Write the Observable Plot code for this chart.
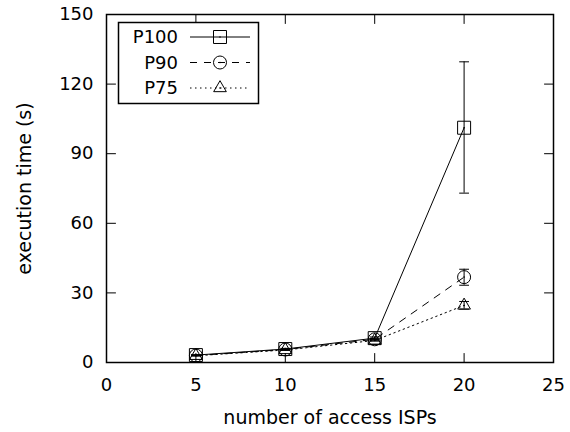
<!DOCTYPE html>
<html>
<head>
<meta charset="utf-8">
<script src="https://cdn.jsdelivr.net/npm/d3@7"></script>
<script src="https://cdn.jsdelivr.net/npm/@observablehq/plot@0.6"></script>
<style>
  html, body { margin: 0; padding: 0; background: #fff; }
  #chart svg { display: block; }
</style>
</head>
<body>
<div id="chart"></div>
<script>
// Execution time vs. number of access ISPs, three percentiles with error bars.
const isps = [5, 10, 15, 20];

const p100 = [3.2, 5.8, 10.5, 101.2];
const p100Low = [3.0, 5.5, 10.0, 73.0];
const p100High = [3.4, 6.1, 11.0, 129.6];

const p90 = [3.0, 5.6, 10.0, 36.8];
const p90Low = [2.9, 5.4, 9.6, 33.3];
const p90High = [3.1, 5.8, 10.4, 40.2];

const p75 = [2.9, 5.4, 9.5, 24.6];
const p75Low = [2.8, 5.2, 9.2, 23.0];
const p75High = [3.0, 5.6, 9.8, 26.3];

const seriesNames = ["P100", "P90", "P75"];
const xTicks = [0, 5, 10, 15, 20, 25];
const yTicks = [0, 30, 60, 90, 120, 150];

const FONT = "DejaVu Sans";
const FS = 18;
const TITLE_FS = 19;

const styles = {
  P100: { dash: null, symbol: d3.symbolSquare, r: 7.33 },
  P90: { dash: "7,7", symbol: d3.symbolCircle, r: 6.5 },
  P75: { dash: "1.5,3.5", symbol: d3.symbolTriangle, r: 4.71 }
};

function rowsFor(name, vals, lo, hi) {
  return isps.map((x, i) => ({ series: name, x, y: vals[i], lo: lo[i], hi: hi[i] }));
}
const rows = {
  P100: rowsFor("P100", p100, p100Low, p100High),
  P90: rowsFor("P90", p90, p90Low, p90High),
  P75: rowsFor("P75", p75, p75Low, p75High)
};

// A plain line segment shape for vector marks (ticks and error-bar caps).
const segment = { draw(context, l) { context.moveTo(0, 0); context.lineTo(0, -l); } };

const symbolName = { P100: "square", P90: "circle", P75: "triangle" };

const marks = [];

// Inward ticks on all four sides.
marks.push(
  Plot.vector(xTicks, { x: d => d, y: 0, length: 9, rotate: 0, anchor: "start", shape: segment, stroke: "black", strokeWidth: 1 }),
  Plot.vector(xTicks, { x: d => d, y: 150, length: 9, rotate: 180, anchor: "start", shape: segment, stroke: "black", strokeWidth: 1 }),
  Plot.vector(yTicks, { x: 0, y: d => d, length: 9, rotate: 90, anchor: "start", shape: segment, stroke: "black", strokeWidth: 1 }),
  Plot.vector(yTicks, { x: 25, y: d => d, length: 9, rotate: -90, anchor: "start", shape: segment, stroke: "black", strokeWidth: 1 })
);

for (const name of seriesNames) {
  const data = rows[name];
  const st = styles[name];
  marks.push(
    Plot.line(data, { x: "x", y: "y", stroke: "black", strokeWidth: 1, strokeDasharray: st.dash }),
    Plot.ruleX(data, { x: "x", y1: "lo", y2: "hi", stroke: "black", strokeWidth: 1 }),
    Plot.vector(data, { x: "x", y: "lo", length: 9, rotate: 90, anchor: "middle", shape: segment, stroke: "black", strokeWidth: 1 }),
    Plot.vector(data, { x: "x", y: "hi", length: 9, rotate: 90, anchor: "middle", shape: segment, stroke: "black", strokeWidth: 1 }),
    Plot.dot(data, { x: "x", y: "y", symbol: symbolName[name], r: st.r, stroke: "black", strokeWidth: 1, fill: "none" }),
    Plot.dot(data, { x: "x", y: "y", r: 0.8, fill: "black", stroke: "none" })
  );
}

marks.push(
  Plot.frame({ stroke: "black", strokeWidth: 1.5 }),
  Plot.axisX(xTicks, { tickSize: 0, tickPadding: 16, fontSize: FS, label: null }),
  Plot.axisY(yTicks, { tickSize: 0, tickPadding: 13, fontSize: FS, label: null }),
  Plot.text(["number of access ISPs"], { frameAnchor: "bottom", dy: 55, text: d => d, fontSize: TITLE_FS, lineAnchor: "middle", textAnchor: "middle" }),
  Plot.text(["execution time (s)"], { frameAnchor: "left", dx: -82, rotate: -90, text: d => d, fontSize: TITLE_FS, lineAnchor: "middle", textAnchor: "middle" })
);

const chart = Plot.plot({
  width: 570,
  height: 432,
  marginLeft: 106,
  marginRight: 17,
  marginTop: 14,
  marginBottom: 70,
  style: { fontFamily: FONT, fontSize: FS + "px", color: "black", background: "white" },
  x: { domain: [0, 25] },
  y: { domain: [0, 150] },
  marks
});

// Key box in the upper-left corner of the plot area.
const svg = d3.select(chart);
const key = svg.append("g").attr("font-family", FONT).attr("font-size", FS);
key.append("rect")
  .attr("x", 118.5).attr("y", 22.5).attr("width", 140).attr("height", 81)
  .attr("fill", "white").attr("stroke", "black").attr("stroke-width", 1.5);
seriesNames.forEach((name, i) => {
  const st = styles[name];
  const cy = 37 + i * 25.5;
  key.append("text")
    .attr("x", 178).attr("y", cy).attr("dy", "0.35em")
    .attr("text-anchor", "end").attr("fill", "black").text(name);
  key.append("line")
    .attr("x1", 190).attr("x2", 250).attr("y1", cy).attr("y2", cy)
    .attr("stroke", "black").attr("stroke-width", 1)
    .attr("stroke-dasharray", st.dash);
  key.append("path")
    .attr("transform", `translate(220,${cy})`)
    .attr("d", d3.symbol().type(st.symbol).size(st.r * st.r * Math.PI)())
    .attr("fill", "none").attr("stroke", "black").attr("stroke-width", 1);
  key.append("circle").attr("cx", 220).attr("cy", cy).attr("r", 0.8).attr("fill", "black");
});

document.getElementById("chart").appendChild(chart);
</script>
</body>
</html>
